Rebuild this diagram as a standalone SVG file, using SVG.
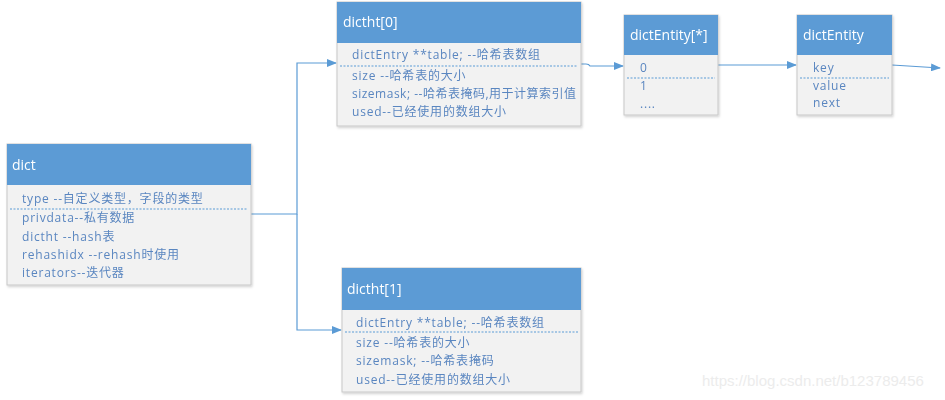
<svg xmlns="http://www.w3.org/2000/svg" width="945" height="400" viewBox="0 0 945 400">
<defs>
<style>
.box{fill:#f2f2f2;stroke:#c8c8c8;stroke-width:1}
.hd{fill:#5b9bd5}
.ht{fill:#ffffff;font-family:"Open Sans","Noto Sans CJK SC",sans-serif;font-size:14px}
.bt{fill:#5a86c0;font-family:"Open Sans","Noto Sans CJK SC",sans-serif;font-size:12px;letter-spacing:0.8px}
.dash{stroke:#5b9bd5;stroke-width:1.2;stroke-dasharray:2,1.5;fill:none}
.ln{stroke:#5b9bd5;stroke-width:1.2;fill:none}
.wm{fill:#ececec;font-family:"Liberation Sans",sans-serif;font-size:15px}
</style>
<marker id="arr" markerWidth="10" markerHeight="8" refX="9" refY="4" orient="auto" markerUnits="userSpaceOnUse">
<path d="M0,0 L10,4 L0,8 z" fill="#5b9bd5"/>
</marker>
<filter id="sh" x="-5%" y="-5%" width="115%" height="115%">
<feDropShadow dx="1" dy="1.5" stdDeviation="1" flood-color="#000" flood-opacity="0.18"/>
</filter>
</defs>

<g id="connectors">
<path class="ln" d="M251,214 H297 V63 H336" marker-end="url(#arr)"/>
<path class="ln" d="M297,214 V330 H341" marker-end="url(#arr)"/>
<path class="ln" d="M581,64 H586 Q589,64 590,66 H623" marker-end="url(#arr)"/>
<path class="ln" d="M718,65 H796" marker-end="url(#arr)"/>
<path class="ln" d="M892,65 L940,68" marker-end="url(#arr)"/>
</g>

<g id="dict" filter="url(#sh)">
<rect class="box" x="7" y="144" width="244" height="141"/>
<rect class="hd" x="7" y="144" width="244" height="41"/>
<text class="ht" x="12" y="170">dict</text>
<text class="bt" x="22" y="203">type --自定义类型，字段的类型</text>
<line class="dash" x1="10" y1="209" x2="248" y2="209"/>
<text class="bt" x="22" y="222">privdata--私有数据</text>
<text class="bt" x="22" y="241">dictht --hash表</text>
<text class="bt" x="22" y="259">rehashidx --rehash时使用</text>
<text class="bt" x="22" y="277">iterators--迭代器</text>
</g>

<g id="dictht0" filter="url(#sh)">
<rect class="box" x="337" y="2" width="244" height="124"/>
<rect class="hd" x="337" y="2" width="244" height="41"/>
<text class="ht" x="343" y="27">dictht[0]</text>
<text class="bt" x="352" y="59">dictEntry **table;  --哈希表数组</text>
<line class="dash" x1="340" y1="66" x2="578" y2="66"/>
<text class="bt" x="352" y="80">size --哈希表的大小</text>
<text class="bt" x="352" y="98" style="letter-spacing:0.5px">sizemask; --哈希表掩码,用于计算索引值</text>
<text class="bt" x="352" y="116">used--已经使用的数组大小</text>
</g>

<g id="dictEntityArr" filter="url(#sh)">
<rect class="box" x="624" y="15" width="94" height="100"/>
<rect class="hd" x="624" y="15" width="94" height="40"/>
<text class="ht" x="630" y="40">dictEntity[*]</text>
<text class="bt" x="640" y="72">0</text>
<line class="dash" x1="627" y1="78" x2="715" y2="78"/>
<text class="bt" x="640" y="90">1</text>
<text class="bt" x="640" y="108">....</text>
</g>

<g id="dictEntity" filter="url(#sh)">
<rect class="box" x="797" y="15" width="95" height="100"/>
<rect class="hd" x="797" y="15" width="95" height="40"/>
<text class="ht" x="803" y="40">dictEntity</text>
<text class="bt" x="813" y="72">key</text>
<line class="dash" x1="800" y1="78" x2="889" y2="78"/>
<text class="bt" x="813" y="90">value</text>
<text class="bt" x="813" y="107">next</text>
</g>

<g id="dictht1" filter="url(#sh)">
<rect class="box" x="342" y="268" width="239" height="124"/>
<rect class="hd" x="342" y="268" width="239" height="42"/>
<text class="ht" x="347" y="294">dictht[1]</text>
<text class="bt" x="356" y="327">dictEntry **table;  --哈希表数组</text>
<line class="dash" x1="345" y1="332" x2="578" y2="332"/>
<text class="bt" x="356" y="347">size --哈希表的大小</text>
<text class="bt" x="356" y="365">sizemask; --哈希表掩码</text>
<text class="bt" x="356" y="384">used--已经使用的数组大小</text>
</g>

<text class="wm" x="702" y="386">https://blog.csdn.net/b123789456</text>
</svg>
